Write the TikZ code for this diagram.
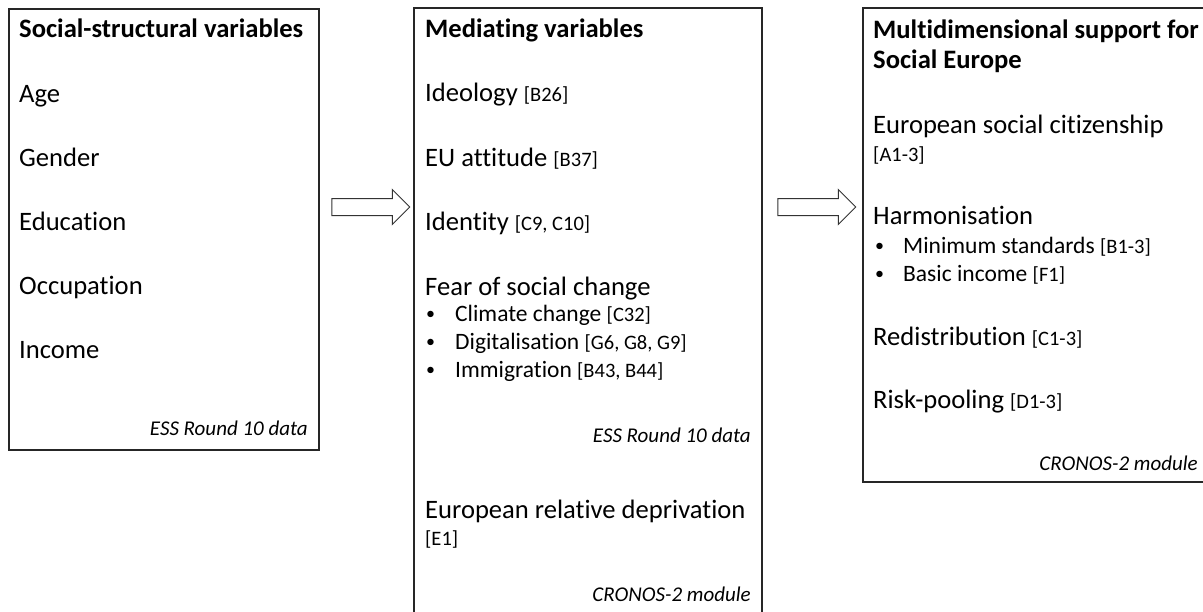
\documentclass[tikz,border=0pt]{standalone}
\usepackage{fontspec}
\setmainfont{Carlito}[Ligatures=NoCommon]
\usetikzlibrary{calc,shapes.arrows}
\newcommand\refx[1]{{\fontsize{20.5}{24}\selectfont #1}}
\newcommand\smallbullet{\raisebox{1.6pt}{\fontsize{18}{20}\selectfont\textbullet}}
\begin{document}
\begin{tikzpicture}[x=1pt,y=-1pt,
  box/.style={draw=black!85, line width=1.2pt, rectangle, inner sep=0pt, outer sep=0pt, anchor=north west},
  txt/.style={anchor=base west, inner sep=0pt, font=\fontsize{26.6}{30}\selectfont},
  hd/.style={anchor=base west, inner sep=0pt, font=\fontsize{26.6}{30}\selectfont\bfseries},
  sub/.style={anchor=base west, inner sep=0pt, font=\fontsize{23.5}{28}\selectfont},
  foot/.style={anchor=base east, inner sep=0pt, font=\fontsize{21}{25}\selectfont\itshape},
  blockarrow/.style={single arrow, draw=black!80, line width=1pt, fill=white, inner sep=0pt, inner ysep=8pt, minimum height=78pt, minimum width=34pt, single arrow head extend=9pt, single arrow head indent=0pt}
]
\useasboundingbox (0,0) rectangle (1203,611);
\clip (0,0) rectangle (1203,611);

% boxes
\node[box, minimum width=310, minimum height=441] (b1) at (9,9) {};
\node[box, minimum width=348, minimum height=608] (b2) at (414,8) {};
\node[box, minimum width=346, minimum height=474] (b3) at (863,8) {};

% box 1
\node[hd]  (h1) at (19,37) {Social-structural variables};
\node[txt] (t11) at (19,102) {Age};
\node[txt] (t12) at (19,166) {Gender};
\node[txt] (t13) at (19,230) {Education};
\node[txt] (t14) at (19,294) {Occupation};
\node[txt] (t15) at (19,358) {Income};
\node[foot] (f1) at (308,435) {ESS Round 10 data};

% box 2
\node[hd]  (h2) at (425,37) {Mediating variables};
\node[txt] (t21) at (425,101) {Ideology \refx{[B26]}};
\node[txt] (t22) at (425,166) {EU attitude \refx{[B37]}};
\node[txt] (t23) at (425,230) {Identity \refx{[C9, C10]}};
\node[txt] (t24) at (425,295) {Fear of social change};
\node[sub] (u21) at (426,321) {\smallbullet};
\node[sub] (s21) at (455,321) {Climate change \refx{[C32]}};
\node[sub] (u22) at (426,349) {\smallbullet};
\node[sub] (s22) at (455,349) {Digitalisation \refx{[G6, G8, G9]}};
\node[sub] (u23) at (426,377) {\smallbullet};
\node[sub] (s23) at (455,377) {Immigration \refx{[B43, B44]}};
\node[foot] (f21) at (751,442) {ESS Round 10 data};
\node[txt] (t25) at (425,518) {European relative deprivation};
\node[txt] (t26) at (425,545) {\refx{[E1]}};
\node[foot] (f22) at (751,601) {CRONOS-2 module};

% box 3
\node[hd]  (h3a) at (873,38) {Multidimensional support for};
\node[hd]  (h3b) at (873,68) {Social Europe};
\node[txt] (t31) at (873,133) {European social citizenship};
\node[txt] (t32) at (873,161) {\refx{[A1-3]}};
\node[txt] (t33) at (873,224) {Harmonisation};
\node[sub] (u31) at (875,253) {\smallbullet};
\node[sub] (s31) at (903,253) {Minimum standards \refx{[B1-3]}};
\node[sub] (u32) at (875,281) {\smallbullet};
\node[sub] (s32) at (903,281) {Basic income \refx{[F1]}};
\node[txt] (t34) at (873,345) {Redistribution \refx{[C1-3]}};
\node[txt] (t35) at (873,408) {Risk-pooling \refx{[D1-3]}};
\node[foot] (f3) at (1198,470) {CRONOS-2 module};

% arrows
\coordinate (ay) at (0,207);
\coordinate (m1) at ($(b1.east)!0.5!(b2.west)$);
\coordinate (m2) at ($(b2.east)!0.5!(b3.west)$);
\node[blockarrow] (ar1) at (m1 |- ay) {};
\node[blockarrow] (ar2) at (m2 |- ay) {};
\end{tikzpicture}
\end{document}
